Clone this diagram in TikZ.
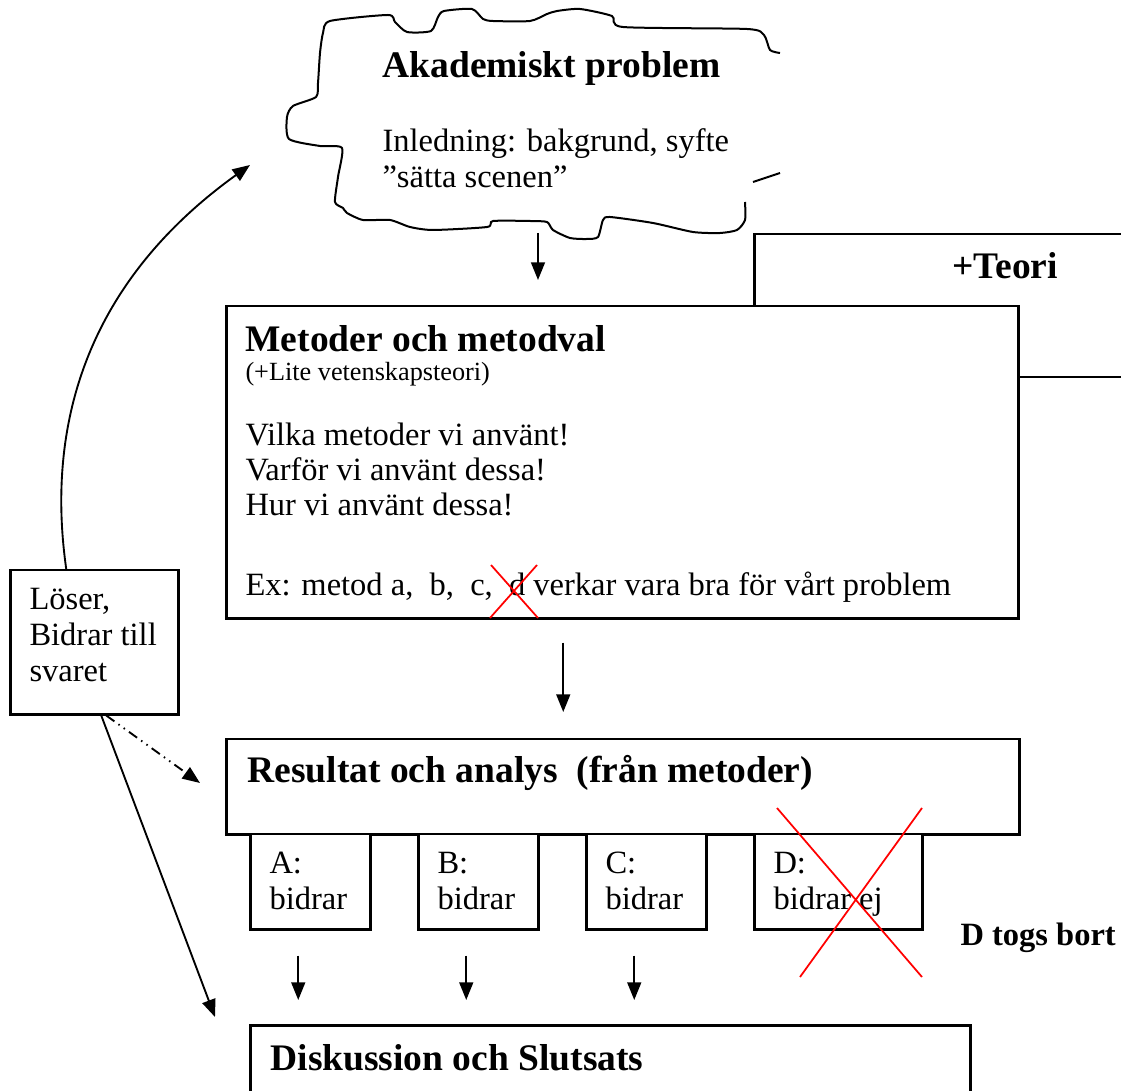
\documentclass[tikz,border=0pt]{standalone}
\usepackage{fontspec}
\setmainfont{Liberation Serif}
\usetikzlibrary{arrows.meta}

\begin{document}
\begin{tikzpicture}[x=0.4pt,y=-0.4pt]
\tikzset{>={Triangle[width=5.5pt,length=7pt]}}
\tikzstyle{ruta}=[draw,line width=1pt,fill=white,inner sep=0pt,anchor=north west]
\tikzstyle{txt}=[inner sep=0pt,anchor=base west,align=left,font=\fontsize{13}{14.4}\selectfont]
\tikzstyle{rubrik}=[txt,font=\fontsize{15}{17}\selectfont\bfseries]
\tikzstyle{pil}=[->,line width=0.75pt]
\tikzstyle{kryss}=[red,line width=0.7pt]

\useasboundingbox (0,0) rectangle (1121,1091);
\clip (0,0) rectangle (1121,1091);

% molnet
\draw[line width=0.8pt] plot[smooth,tension=0.4] coordinates {(745,202) (745,220) (737,230) (720,233) (693,232)
  (653,223) (610,217) (603,220) (598,237) (587,239) (570,238) (553,230) (547,222) (530,221) (493,221) (487,227)
  (433,230) (410,227) (390,220) (363,220) (347,213) (343,208) (335,202) (338,177) (342,148) (320,146) (289,139)
  (287,117) (293,106) (316,97) (318,83) (320,53) (323,33) (330,21) (388,15) (395,22) (407,32) (431,31) (438,17)
  (444,11) (472,9) (483,19) (493,21) (530,21) (547,14) (557,11) (580,9) (612,16) (623,27) (747,29) (764,35)
  (770,50) (780,53)};
\draw[line width=0.8pt] (753,182) -- (780,173);

% rutor
\node[ruta,minimum width=154.8pt,minimum height=57.2pt] (teori) at (753,233) {};
\node[ruta,minimum width=316.8pt,minimum height=124.8pt] (metoder) at (225,305) {};
\node[ruta,minimum width=317.2pt,minimum height=38pt] (resultat) at (225,738) {};
\foreach \n/\x/\b in {A/249/48pt,B/417/48pt,C/585/48pt,D/753/67.2pt}
  \node[ruta,minimum width=\b,minimum height=38pt] (del\n) at (\x,833) {};
\node[ruta,minimum width=67.2pt,minimum height=57.6pt] (loser) at (9,569) {};
\node[ruta,minimum width=288pt,minimum height=40pt] (diskussion) at (249,1024) {};

% texter (flera rader: base = sista raden)
\node[rubrik] (akad) at (382,78) {Akademiskt problem};
\node[txt] (inled) at (382,188) {Inledning: bakgrund, syfte\\”sätta scenen”};
\node[rubrik] (teorinamn) at (952,279) {+Teori};
\node[rubrik] (metodnamn) at (245,352) {Metoder och metodval};
\node[txt,font=\fontsize{10.5}{12}\selectfont] (vet) at (245,381) {(+Lite vetenskapsteori)};
\node[txt,font=\fontsize{13}{14}\selectfont] (vilka) at (245,516) {Vilka metoder vi använt!\\Varför vi använt dessa!\\Hur vi använt dessa!};
\node[txt] (ex) at (245,596) {Ex: metod a,\ \ b,\ \ c,\ \ d verkar vara bra för vårt problem};
\node[rubrik] (resnamn) at (247,783) {Resultat och analys\ \ (från metoder)};
\node[txt] (textA) at (269,909) {A:\\bidrar};
\node[txt] (textB) at (437,909) {B:\\bidrar};
\node[txt] (textC) at (605,909) {C:\\bidrar};
\node[txt] (textD) at (773,909) {D:\\bidrar ej};
\node[rubrik,font=\fontsize{13}{15}\selectfont\bfseries] (bort) at (960,945) {D togs bort};
\node[txt] (losertext) at (29,682) {Löser,\\Bidrar till\\svaret};
\node[rubrik] (disknamn) at (270,1070) {Diskussion och Slutsats};

% pilar
\coordinate (molnfot) at (538,233);
\coordinate (molnkant) at (250,165);
\coordinate (diskpil) at (215,1017);
\coordinate (resultatpil) at (200,783);
\draw[pil,shorten >=10pt] (molnfot) -- (molnfot |- metoder.north);
\draw[pil,shorten <=9.2pt,shorten >=10.4pt] ([xshift=-23.6pt]metoder.south) -- ([xshift=-23.6pt]metoder.south |- resultat.north);
\foreach \n in {A,B,C}
  \draw[pil,shorten <=10pt,shorten >=9.6pt] ([xshift=-4.8pt]del\n.south) -- ([xshift=-4.8pt]del\n.south |- diskussion.north);
\draw[pil] ([xshift=-11.2pt]loser.north) .. controls (45,420) and (90,280) .. (molnkant);
\draw[pil] ([xshift=2.8pt]loser.south) -- (diskpil);
\draw[pil,dash pattern=on 4pt off 2pt on 0.6pt off 2pt on 0.6pt off 2pt] ([xshift=4.8pt]loser.south) -- (resultatpil);

% struket
\draw[kryss] (491,565) -- (538,618) (537,565) -- (490,618);
\draw[kryss] (777,808) -- (922,977) (922,808) -- (800,977);
\end{tikzpicture}
\end{document}
